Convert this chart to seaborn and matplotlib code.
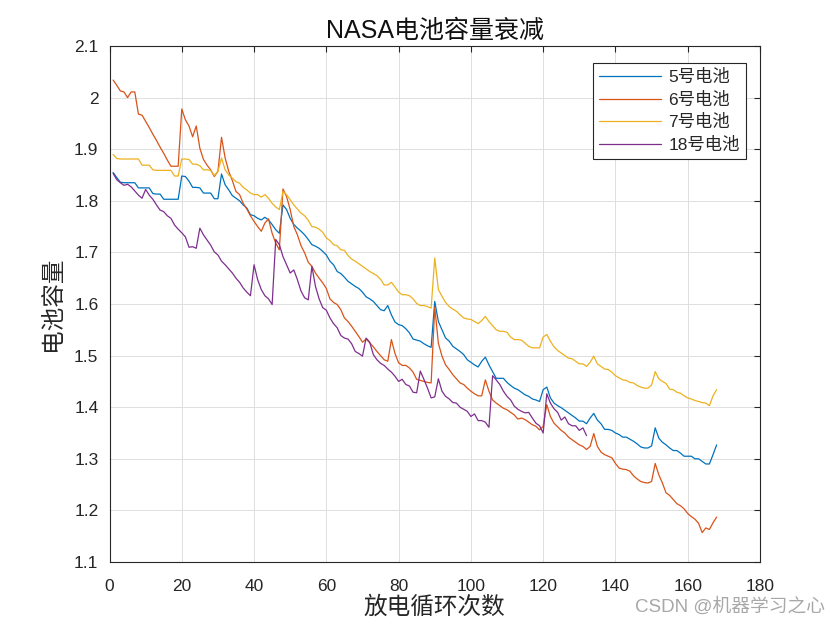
import matplotlib
matplotlib.use("Agg")
import matplotlib.pyplot as plt
import seaborn as sns
import pandas as pd
import numpy as np
from matplotlib.ticker import FuncFormatter

# ---------------- data ----------------
b5 = [1.855, 1.845, 1.836, 1.835, 1.835, 1.835, 1.835, 1.825, 1.825, 1.825,
      1.825, 1.814, 1.813, 1.813, 1.803, 1.803, 1.803, 1.803, 1.803, 1.848,
      1.847, 1.838, 1.826, 1.826, 1.825, 1.815, 1.815, 1.815, 1.804, 1.804,
      1.852, 1.831, 1.821, 1.810, 1.805, 1.800, 1.792, 1.786, 1.773, 1.771,
      1.766, 1.763, 1.768, 1.763, 1.754, 1.744, 1.737, 1.792, 1.783, 1.766,
      1.754, 1.747, 1.741, 1.734, 1.725, 1.715, 1.712, 1.708, 1.702, 1.695,
      1.683, 1.676, 1.663, 1.659, 1.652, 1.644, 1.639, 1.634, 1.630, 1.623,
      1.614, 1.610, 1.605, 1.597, 1.589, 1.587, 1.597, 1.579, 1.565, 1.560,
      1.558, 1.552, 1.544, 1.532, 1.530, 1.528, 1.523, 1.519, 1.516, 1.605,
      1.566, 1.550, 1.534, 1.528, 1.518, 1.513, 1.508, 1.502, 1.492, 1.487,
      1.482, 1.478, 1.489, 1.497, 1.482, 1.469, 1.456, 1.456, 1.456, 1.448,
      1.442, 1.437, 1.434, 1.429, 1.424, 1.421, 1.416, 1.414, 1.411, 1.434,
      1.439, 1.418, 1.408, 1.403, 1.399, 1.394, 1.389, 1.384, 1.379, 1.373,
      1.373, 1.368, 1.379, 1.388, 1.375, 1.368, 1.357, 1.357, 1.355, 1.350,
      1.347, 1.342, 1.342, 1.338, 1.334, 1.329, 1.323, 1.321, 1.321, 1.325,
      1.360, 1.340, 1.332, 1.327, 1.321, 1.316, 1.316, 1.311, 1.305, 1.305,
      1.305, 1.300, 1.300, 1.295, 1.290, 1.290, 1.308, 1.327]

b6 = [2.034, 2.024, 2.013, 2.011, 2.000, 2.011, 2.011, 1.968, 1.966, 1.954,
      1.942, 1.929, 1.917, 1.904, 1.892, 1.879, 1.867, 1.867, 1.867, 1.978,
      1.957, 1.945, 1.924, 1.945, 1.902, 1.880, 1.869, 1.860, 1.847, 1.857,
      1.923, 1.883, 1.857, 1.839, 1.818, 1.812, 1.795, 1.784, 1.771, 1.760,
      1.750, 1.741, 1.757, 1.765, 1.737, 1.718, 1.705, 1.823, 1.808, 1.783,
      1.750, 1.734, 1.713, 1.699, 1.681, 1.673, 1.660, 1.650, 1.641, 1.630,
      1.610, 1.603, 1.599, 1.589, 1.573, 1.566, 1.557, 1.547, 1.537, 1.526,
      1.532, 1.525, 1.517, 1.508, 1.500, 1.492, 1.489, 1.531, 1.504, 1.486,
      1.481, 1.481, 1.476, 1.468, 1.454, 1.452, 1.450, 1.448, 1.447, 1.594,
      1.524, 1.499, 1.482, 1.473, 1.463, 1.455, 1.447, 1.444, 1.437, 1.431,
      1.426, 1.422, 1.422, 1.453, 1.431, 1.414, 1.408, 1.403, 1.398, 1.395,
      1.390, 1.385, 1.377, 1.379, 1.376, 1.371, 1.366, 1.363, 1.356, 1.363,
      1.405, 1.382, 1.369, 1.362, 1.355, 1.350, 1.342, 1.337, 1.332, 1.327,
      1.324, 1.318, 1.324, 1.349, 1.324, 1.313, 1.308, 1.305, 1.302, 1.291,
      1.282, 1.280, 1.279, 1.276, 1.267, 1.261, 1.256, 1.254, 1.253, 1.256,
      1.291, 1.269, 1.253, 1.234, 1.229, 1.221, 1.213, 1.209, 1.203, 1.194,
      1.188, 1.183, 1.175, 1.157, 1.166, 1.163, 1.176, 1.187]

b7 = [1.890, 1.882, 1.881, 1.881, 1.881, 1.881, 1.881, 1.881, 1.869, 1.869,
      1.869, 1.860, 1.859, 1.859, 1.859, 1.859, 1.859, 1.848, 1.848, 1.881,
      1.881, 1.880, 1.871, 1.871, 1.868, 1.860, 1.860, 1.859, 1.849, 1.857,
      1.883, 1.860, 1.850, 1.844, 1.837, 1.834, 1.826, 1.821, 1.815, 1.812,
      1.812, 1.807, 1.812, 1.805, 1.795, 1.788, 1.783, 1.818, 1.812, 1.802,
      1.792, 1.784, 1.776, 1.771, 1.762, 1.750, 1.749, 1.745, 1.739, 1.728,
      1.723, 1.715, 1.713, 1.705, 1.704, 1.694, 1.687, 1.683, 1.678, 1.673,
      1.668, 1.663, 1.659, 1.655, 1.648, 1.637, 1.637, 1.642, 1.633, 1.623,
      1.618, 1.618, 1.616, 1.610, 1.601, 1.597, 1.597, 1.595, 1.592, 1.689,
      1.628, 1.615, 1.603, 1.595, 1.590, 1.586, 1.579, 1.573, 1.571, 1.570,
      1.566, 1.562, 1.568, 1.576, 1.566, 1.558, 1.550, 1.547, 1.547, 1.545,
      1.536, 1.531, 1.531, 1.530, 1.524, 1.518, 1.515, 1.515, 1.515, 1.536,
      1.541, 1.528, 1.517, 1.510, 1.505, 1.500, 1.495, 1.494, 1.489, 1.484,
      1.484, 1.479, 1.487, 1.499, 1.484, 1.479, 1.474, 1.473, 1.468, 1.461,
      1.457, 1.453, 1.452, 1.448, 1.447, 1.442, 1.439, 1.437, 1.437, 1.443,
      1.469, 1.455, 1.450, 1.446, 1.435, 1.434, 1.429, 1.427, 1.422, 1.418,
      1.416, 1.413, 1.411, 1.409, 1.408, 1.403, 1.422, 1.434]

b18 = [1.853, 1.841, 1.835, 1.830, 1.832, 1.827, 1.819, 1.811, 1.805, 1.822,
       1.811, 1.803, 1.792, 1.782, 1.779, 1.771, 1.766, 1.753, 1.745, 1.738,
       1.730, 1.710, 1.711, 1.708, 1.747, 1.734, 1.724, 1.714, 1.701, 1.695,
       1.683, 1.676, 1.668, 1.660, 1.650, 1.642, 1.631, 1.623, 1.616, 1.676,
       1.647, 1.628, 1.616, 1.610, 1.599, 1.725, 1.715, 1.692, 1.676, 1.660,
       1.666, 1.647, 1.625, 1.612, 1.608, 1.673, 1.634, 1.610, 1.593, 1.588,
       1.573, 1.562, 1.554, 1.539, 1.534, 1.532, 1.523, 1.508, 1.504, 1.499,
       1.534, 1.526, 1.502, 1.492, 1.485, 1.481, 1.474, 1.468, 1.460, 1.450,
       1.454, 1.444, 1.441, 1.429, 1.428, 1.470, 1.454, 1.437, 1.418, 1.420,
       1.455, 1.431, 1.421, 1.416, 1.409, 1.408, 1.400, 1.396, 1.392, 1.382,
       1.387, 1.374, 1.374, 1.371, 1.361, 1.461, 1.453, 1.444, 1.431, 1.421,
       1.414, 1.402, 1.396, 1.392, 1.389, 1.390, 1.379, 1.369, 1.364, 1.350,
       1.426, 1.408, 1.397, 1.390, 1.375, 1.381, 1.368, 1.364, 1.364, 1.355,
       1.360, 1.345]

labels = ["5号电池", "6号电池", "7号电池", "18号电池"]
colors = ["#0072BD", "#D95319", "#EDB120", "#7E2F8E"]
xticks = list(range(0, 181, 20))
yticks = [1.1, 1.2, 1.3, 1.4, 1.5, 1.6, 1.7, 1.8, 1.9, 2.0, 2.1]

title = "NASA电池容量衰减"
xlabel = "放电循环次数"
ylabel = "电池容量"
watermark = "CSDN @机器学习之心"

# ---------------- build long-form table ----------------
frames = []
for lab, vals in zip(labels, [b5, b6, b7, b18]):
    frames.append(pd.DataFrame({"cycle": np.arange(1, len(vals) + 1),
                                "capacity": vals, "battery": lab}))
df = pd.concat(frames, ignore_index=True)

# ---------------- style ----------------
sns.set_theme(style="white")
plt.rcParams["font.family"] = ["Liberation Sans", "Noto Sans CJK SC", "DejaVu Sans"]
plt.rcParams["axes.unicode_minus"] = False

fig = plt.figure(figsize=(8.4, 6.3), dpi=100)
fig.patch.set_facecolor("white")
ax = fig.add_axes([109.5 / 840, (630 - 562) / 630, (760 - 109.5) / 840, (562 - 46) / 630])

sns.lineplot(data=df, x="cycle", y="capacity", hue="battery",
             palette=dict(zip(labels, colors)), hue_order=labels,
             linewidth=0.9, ax=ax, legend=True, estimator=None, sort=False)

ax.set_xlim(0, 180)
ax.set_ylim(1.1, 2.1)
ax.set_xticks(xticks)
ax.set_yticks(yticks)
ax.yaxis.set_major_formatter(FuncFormatter(lambda v, p: f"{v:g}"))
ax.grid(True, color="#dedede", linewidth=0.7)
ax.set_axisbelow(True)
for s in ax.spines.values():
    s.set_color("#262626")
    s.set_linewidth(0.8)
ax.tick_params(direction="in", length=4, width=0.8, top=True, right=True,
               labelsize=12.5, colors="#262626")
ax.tick_params(axis="x", pad=12)
ax.tick_params(axis="y", pad=8)

ax.set_title(title, fontsize=18, color="#111111", pad=6)
ax.set_xlabel(xlabel, fontsize=17, color="#262626", labelpad=2)
ax.set_ylabel(ylabel, fontsize=17, color="#262626", labelpad=7)

leg = ax.legend(loc="upper right", bbox_to_anchor=(0.9785, 0.967),
                fontsize=12.5, frameon=True, fancybox=False, framealpha=1,
                edgecolor="#262626", handlelength=3.6, labelspacing=0.38,
                borderpad=0.35, handletextpad=0.4, borderaxespad=0)
leg.get_frame().set_linewidth(0.8)
for line in leg.get_lines():
    line.set_linewidth(0.9)

fig.text(0.982, 0.022, watermark, ha="right", va="bottom", fontsize=13.5,
         color="#a8a8a8")

fig.savefig("out.png", dpi=100, facecolor="white")
